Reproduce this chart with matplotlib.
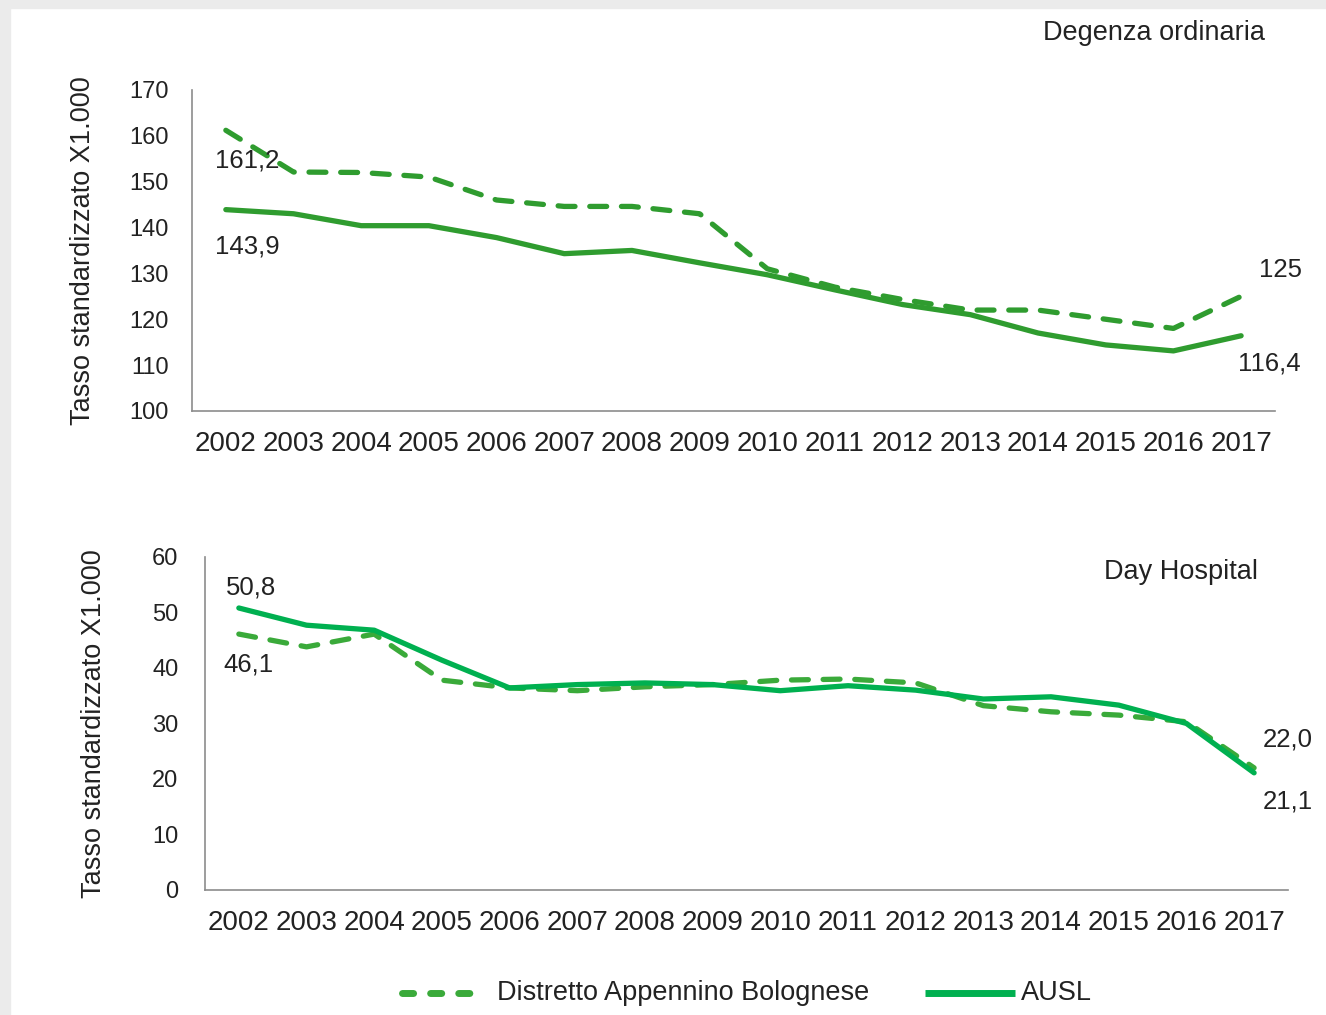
import matplotlib
matplotlib.use("Agg")
import matplotlib.pyplot as plt
from matplotlib.lines import Line2D
from matplotlib.patches import Rectangle

plt.rcParams['font.family'] = ['Liberation Sans', 'DejaVu Sans']

anni = [str(a) for a in range(2002, 2018)]

# Degenza ordinaria
do_distretto = [161.2, 152.1, 152.0, 151.0, 146.0, 144.6, 144.6, 143.0, 131.0, 127.0,
                124.3, 122.0, 122.0, 120.0, 118.0, 125.0]
do_ausl = [143.9, 143.0, 140.4, 140.4, 137.8, 134.3, 135.0, 132.3, 129.7, 126.4,
           123.2, 121.0, 117.0, 114.4, 113.1, 116.4]

# Day Hospital
dh_distretto = [46.1, 43.8, 46.1, 37.8, 36.4, 35.9, 36.6, 37.0, 37.8, 38.0,
                37.3, 33.2, 32.1, 31.5, 30.3, 22.0]
dh_ausl = [50.8, 47.7, 46.8, 41.4, 36.4, 37.0, 37.3, 37.0, 35.9, 36.8,
           36.0, 34.4, 34.8, 33.3, 30.0, 21.1]

verde_top = '#2f9c2f'
verde_dash = '#3aaa3a'
verde_ausl = '#00b050'
testo = '#222222'
DASH = (3.2, 2.8)
W, H = 1326, 1015

fig = plt.figure(figsize=(W / 100, H / 100), dpi=100)
fig.patch.set_facecolor('white')
# cornice grigia
fig.add_artist(Rectangle((0, 0), 10 / W, 1, transform=fig.transFigure,
                         color='#ebebeb', zorder=0))
fig.add_artist(Rectangle((0, 1 - 8 / H), 1, 8 / H, transform=fig.transFigure,
                         color='#ebebeb', zorder=0))

ax1 = fig.add_axes([0.1448, 0.5951, 0.8167, 0.3163])
ax2 = fig.add_axes([0.1546, 0.1232, 0.8167, 0.3281])

x = range(len(anni))


def stile(ax, ylim, yticks, pad_y):
    ax.set_xlim(-0.5, len(anni) - 0.5)
    ax.set_ylim(*ylim)
    ax.set_yticks(yticks)
    ax.set_xticks(list(x))
    ax.set_xticklabels(anni, fontsize=20, color=testo)
    ax.tick_params(axis='y', labelsize=17, labelcolor=testo, length=0, pad=pad_y)
    ax.tick_params(axis='x', length=0, pad=14.5)
    for s in ['top', 'right']:
        ax.spines[s].set_visible(False)
    for s in ['left', 'bottom']:
        ax.spines[s].set_color('#8c8c8c')
        ax.spines[s].set_linewidth(1.2)
    ax.set_ylabel('Tasso standardizzato X1.000', fontsize=19.5, color=testo)


# pannello superiore
ax1.plot(x, do_distretto, color=verde_top, lw=3.8, dashes=DASH,
         dash_capstyle='round', solid_capstyle='round')
ax1.plot(x, do_ausl, color=verde_top, lw=3.8, solid_capstyle='round')
stile(ax1, (100, 170), range(100, 171, 10), 17)
ax1.yaxis.set_label_coords(-0.0886, 0.5)
ax1.text(0.991, 1.178, 'Degenza ordinaria', transform=ax1.transAxes, ha='right',
         va='center', fontsize=19.5, color=testo)

etichette1 = [(0, do_distretto[0], '161,2', (21, -30)),
              (0, do_ausl[0], '143,9', (21, -37)),
              (15, do_distretto[15], '125', (39, 26)),
              (15, do_ausl[15], '116,4', (28, -28))]
for xi, yi, t, off in etichette1:
    ax1.annotate(t, (xi, yi), xytext=off, textcoords='offset pixels',
                 ha='center', va='center', fontsize=18.5, color=testo)

# pannello inferiore
ax2.plot(x, dh_distretto, color=verde_dash, lw=3.8, dashes=DASH,
         dash_capstyle='round', solid_capstyle='round')
ax2.plot(x, dh_ausl, color=verde_ausl, lw=3.8, solid_capstyle='round')
stile(ax2, (0, 60), range(0, 61, 10), 19)
ax2.yaxis.set_label_coords(-0.0905, 0.5)
ax2.text(0.972, 0.955, 'Day Hospital', transform=ax2.transAxes, ha='right',
         va='center', fontsize=19.5, color=testo)

etichette2 = [(0, dh_ausl[0], '50,8', (12, 20)),
              (0, dh_distretto[0], '46,1', (10, -30)),
              (15, dh_distretto[15], '22,0', (34, 28)),
              (15, dh_ausl[15], '21,1', (34, -29))]
for xi, yi, t, off in etichette2:
    ax2.annotate(t, (xi, yi), xytext=off, textcoords='offset pixels',
                 ha='center', va='center', fontsize=18.5, color=testo)

# legenda in basso
yl = 1 - 993 / H
fig.add_artist(Line2D([401.5 / W, 471.5 / W], [yl, yl], transform=fig.transFigure,
                      color=verde_dash, lw=5, dashes=(1.6, 2.45),
                      dash_capstyle='round'))
fig.text(497 / W, yl, 'Distretto Appennino Bolognese', ha='left', va='center',
         fontsize=19.5, color=testo)
fig.add_artist(Line2D([925 / W, 1015 / W], [yl, yl], transform=fig.transFigure,
                      color=verde_ausl, lw=5, solid_capstyle='butt'))
fig.text(1021 / W, yl, 'AUSL', ha='left', va='center', fontsize=19.5, color=testo)

fig.savefig('out.png', dpi=100, facecolor=fig.get_facecolor())
